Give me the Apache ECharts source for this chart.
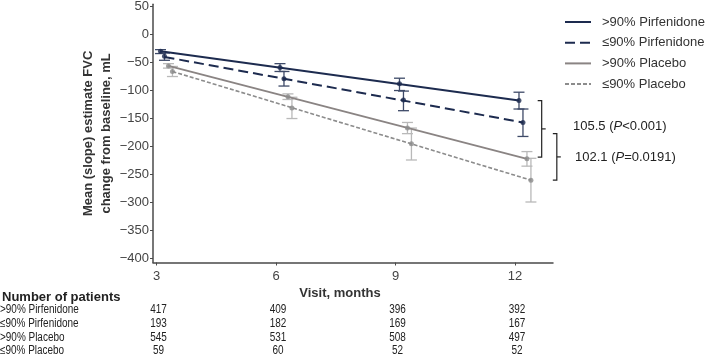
<!DOCTYPE html>
<html>
<head>
<meta charset="utf-8">
<script src="https://cdn.jsdelivr.net/npm/echarts@6/dist/echarts.min.js"></script>
<style>
  html, body { margin: 0; padding: 0; background: #fff; }
  #chart { width: 708px; height: 355px; }
</style>
</head>
<body>
<div id="chart"></div>
<script>
// visits (months) and dodge shift for each group
const visits = [3, 6, 9, 12];
const groups = ['>90% Pirfenidone', '≤90% Pirfenidone', '>90% Placebo', '≤90% Placebo'];
const dodge = [0.1, 0.2, 0.3, 0.4];

// observed means and error bar ends, mL
const meanPirfHi = [-30, -59, -88, -118];
const upPirfHi = [-27, -52, -78, -103];
const lowPirfHi = [-34, -66, -100, -133];

const meanPirfLo = [-39, -79, -117, -157];
const upPirfLo = [-33, -66, -101, -133];
const lowPirfLo = [-46, -92, -136, -182];

const meanPlacHi = [-56, -111, -167, -222];
const upPlacHi = [-52, -106, -157, -209];
const lowPlacHi = [-60, -116, -177, -235];

const meanPlacLo = [-66, -131, -195, -260];
const upPlacLo = [-57, -112, -167, -221];
const lowPlacLo = [-75, -150, -224, -299];

// slope estimate lines: value at first and last visit
const fitPirfHi = [-30, -118];
const fitPirfLo = [-40, -157];
const fitPlacHi = [-56, -222];
const fitPlacLo = [-66, -260];

// brackets: [x, top, bottom] and their labels
const bracket1 = [12.67, -118, -219];
const bracket2 = [13.05, -177, -260];
const diffLabels = ['105.5 (', 'P', '<0.001)', '102.1 (', 'P', '=0.0191)'];

const yTicks = [50, 0, -50, -100, -150, -200, -250, -300, -350, -400];

// number of patients table
const nPirfHi = [417, 409, 396, 392];
const nPirfLo = [193, 182, 169, 167];
const nPlacHi = [545, 531, 508, 497];
const nPlacLo = [59, 60, 52, 52];

const NAVY = '#1d2b4f';
const NAVY_ERR = '#3e4a68';
const GREY = '#8a8483';
const GREY_D = '#8c8c8c';
const GREY_ERR = '#b9b9b9';
const AXIS = '#4a4a4a';
const FONT = "'Liberation Sans', Arial, sans-serif";

const means = [meanPirfHi, meanPirfLo, meanPlacHi, meanPlacLo];
const ups = [upPirfHi, upPirfLo, upPlacHi, upPlacLo];
const lows = [lowPirfHi, lowPirfLo, lowPlacHi, lowPlacLo];
const fits = [fitPirfHi, fitPirfLo, fitPlacHi, fitPlacLo];
const counts = [nPirfHi, nPirfLo, nPlacHi, nPlacLo];
const lineColors = [NAVY, NAVY, GREY, GREY_D];
const pointColors = [NAVY, NAVY, GREY_D, GREY_D];
const errColors = [NAVY_ERR, NAVY_ERR, GREY_ERR, GREY_ERR];
const dashes = ['solid', [10, 5], 'solid', [4, 2]];
const widths = [2, 2, 1.8, 1.6];

const series = [];
groups.forEach((g, i) => {
  const xs = visits.map(v => v + dodge[i]);
  series.push({
    name: g,
    type: 'line',
    symbol: 'none',
    silent: true,
    z: 3,
    lineStyle: { color: lineColors[i], width: widths[i], type: dashes[i] },
    itemStyle: { color: lineColors[i] },
    data: [[xs[0], fits[i][0]], [xs[xs.length - 1], fits[i][1]]]
  });
  series.push({
    name: g + ' err',
    type: 'custom',
    z: 2,
    silent: true,
    data: xs.map((x, k) => [x, lows[i][k], ups[i][k]]),
    renderItem: (params, api) => {
      const lo = api.coord([api.value(0), api.value(1)]);
      const hi = api.coord([api.value(0), api.value(2)]);
      const w = 5.5;
      const st = { stroke: errColors[i], lineWidth: 1.3 };
      return {
        type: 'group',
        children: [
          { type: 'line', shape: { x1: lo[0], y1: lo[1], x2: hi[0], y2: hi[1] }, style: st },
          { type: 'line', shape: { x1: lo[0] - w, y1: lo[1], x2: lo[0] + w, y2: lo[1] }, style: st },
          { type: 'line', shape: { x1: hi[0] - w, y1: hi[1], x2: hi[0] + w, y2: hi[1] }, style: st }
        ]
      };
    }
  });
  series.push({
    name: g + ' mean',
    type: 'scatter',
    symbolSize: 5,
    z: 4,
    silent: true,
    itemStyle: { color: pointColors[i] },
    data: xs.map((x, k) => [x, means[i][k]])
  });
});

series.push({
  name: 'brackets',
  type: 'custom',
  silent: true,
  clip: false,
  z: 5,
  data: [bracket1, bracket2],
  renderItem: (params, api) => {
    const t = api.coord([api.value(0), api.value(1)]);
    const b = api.coord([api.value(0), api.value(2)]);
    const m = (t[1] + b[1]) / 2;
    const st = { stroke: '#222', lineWidth: 1.2, fill: null };
    return {
      type: 'group',
      children: [
        { type: 'polyline', shape: { points: [[t[0] - 4, t[1]], [t[0], t[1]], [b[0], b[1]], [b[0] - 4, b[1]]] }, style: st },
        { type: 'line', shape: { x1: t[0], y1: m, x2: t[0] + 4, y2: m }, style: st }
      ]
    };
  }
});

const chart = echarts.init(document.getElementById('chart'), null, { renderer: 'canvas' });
chart.setOption({
  animation: false,
  textStyle: { fontFamily: FONT },
  grid: { left: 153, right: 155, top: 3, bottom: 92.5 },
  legend: {
    data: groups,
    orient: 'vertical',
    left: 564,
    top: 15.5,
    padding: 0,
    itemWidth: 26,
    itemHeight: 14,
    itemGap: 7.7,
    selectedMode: false,
    itemStyle: { opacity: 0 },
    textStyle: { fontFamily: FONT, fontSize: 13, color: '#333', padding: [0, 0, 0, 6] }
  },
  xAxis: {
    type: 'value',
    position: 'bottom',
    min: 2.912,
    max: 12.954,
    splitLine: { show: false },
    axisLine: { show: true, onZero: false, lineStyle: { color: AXIS, width: 1.5 } },
    axisTick: { show: true, customValues: visits, length: 3, lineStyle: { color: AXIS } },
    axisLabel: { customValues: visits, color: '#444', fontSize: 13, margin: 7, fontFamily: FONT },
    name: 'Visit, months',
    nameLocation: 'middle',
    nameGap: 22,
    nameTextStyle: { fontWeight: 'bold', fontSize: 13, color: '#333', fontFamily: FONT, padding: [0, 26, 0, 0] }
  },
  yAxis: {
    type: 'value',
    min: -407,
    max: 54,
    splitLine: { show: false },
    axisLine: { show: true, onZero: false, lineStyle: { color: AXIS, width: 1.5 } },
    axisTick: { show: true, customValues: yTicks, length: 3, lineStyle: { color: AXIS } },
    axisLabel: {
      customValues: yTicks, color: '#444', fontSize: 13, margin: 4, fontFamily: FONT,
      formatter: v => (v < 0 ? '\u2212' + Math.abs(v) : String(v))
    },
    name: 'Mean (slope) estimate FVC\nchange from baseline, mL',
    nameLocation: 'middle',
    nameMoveOverlap: false,
    nameGap: 38,
    nameTextStyle: { fontWeight: 'bold', fontSize: 13, color: '#333', fontFamily: FONT, lineHeight: 18 }
  },
  series: series
});

// table and annotation text placed after the axis scale is known
const colX = visits.map(v => chart.convertToPixel({ xAxisIndex: 0 }, v + 0.05));
const rowY = [310, 324, 337.7, 351];
const squeeze = 0.83;
const graphics = [
  { type: 'text', left: 2, top: 291, style: { text: 'Number of patients', font: 'bold 13px ' + FONT, fill: '#222' } }
];
groups.forEach((g, i) => {
  graphics.push({ type: 'text', x: 0, y: rowY[i], scaleX: squeeze, style: { text: g, font: '12px ' + FONT, fill: '#222', textVerticalAlign: 'middle' } });
  counts[i].forEach((n, k) => {
    graphics.push({ type: 'text', x: colX[k], y: rowY[i], scaleX: squeeze, style: { text: String(n), font: '12px ' + FONT, fill: '#222', textAlign: 'center', textVerticalAlign: 'middle' } });
  });
});
const rich = { i: { fontStyle: 'italic', fontSize: 13, fontFamily: FONT, fill: '#222' }, n: { fontSize: 13, fontFamily: FONT, fill: '#222' } };
graphics.push({ type: 'text', x: 573, y: 126, style: { text: '{n|' + diffLabels[0] + '}{i|' + diffLabels[1] + '}{n|' + diffLabels[2] + '}', rich: rich, textVerticalAlign: 'middle' } });
graphics.push({ type: 'text', x: 575, y: 157, style: { text: '{n|' + diffLabels[3] + '}{i|' + diffLabels[4] + '}{n|' + diffLabels[5] + '}', rich: rich, textVerticalAlign: 'middle' } });
chart.setOption({ graphic: graphics });
</script>
</body>
</html>
